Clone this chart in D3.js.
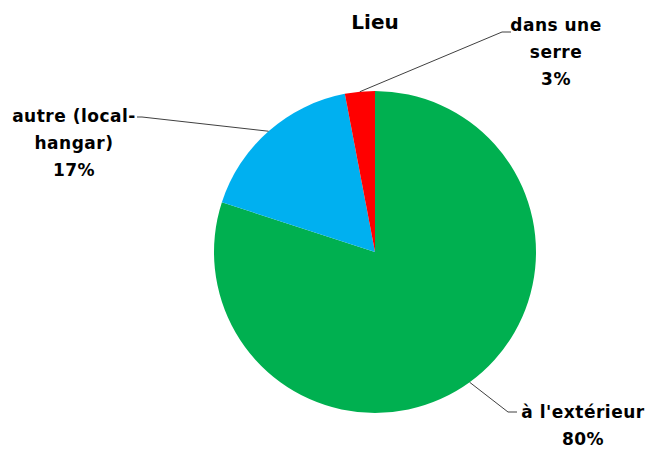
<!DOCTYPE html>
<html><head><meta charset="utf-8">
<script src="https://cdn.jsdelivr.net/npm/d3@7"></script>
<style>body{margin:0;background:#fff}svg{display:block}text{font-family:"Comic Sans MS","DejaVu Sans",sans-serif;font-weight:bold;fill:#000}</style>
</head><body>
<script>
const categories = ["à l'extérieur", "autre (local-hangar)", "dans une serre"];
const values = [80, 17, 3];
const labelLines = [["à l'extérieur", "80%"], ["autre (local-", "hangar)", "17%"], ["dans une", "serre", "3%"]];
const colors = ["#00B050", "#00B0F0", "#FF0000"];
const title = "Lieu";

const W = 649, H = 449, cx = 375, cy = 252, R = 161;
const svg = d3.select("body").append("svg").attr("width", W).attr("height", H);
svg.append("text").attr("x", cx).attr("y", 29).attr("text-anchor", "middle").style("font-size", "20px").text(title);

const data = categories.map((c, i) => ({cat: c, value: values[i], lines: labelLines[i], color: colors[i]}));
const pie = d3.pie().sort(null).value(d => d.value);
const arcs = pie(data);
const arc = d3.arc().innerRadius(0).outerRadius(R);
const g = svg.append("g").attr("transform", `translate(${cx},${cy})`);
g.selectAll("path").data(arcs).join("path").attr("d", arc).attr("fill", d => d.data.color);

const layout = [
  {elbow: [508, 412], end: [517, 412], tx: 583, ty: 418, anchor: "middle"},
  {elbow: [142, 117], end: [137, 117], tx: 74, ty: 122, anchor: "middle"},
  {elbow: [502, 32], end: [511, 32], tx: 556, ty: 31, anchor: "middle"}
];
const lh = 27;
arcs.forEach((a, i) => {
  const mid = (a.startAngle + a.endAngle) / 2;
  const p0 = [cx + R * Math.sin(mid), cy - R * Math.cos(mid)];
  const L = layout[i];
  svg.append("polyline").attr("points", [p0, L.elbow, L.end].map(p => p.join(",")).join(" "))
    .attr("fill", "none").attr("stroke", "#404040").attr("stroke-width", 1);
  const t = svg.append("text").attr("text-anchor", L.anchor).style("font-size", "17px").style("letter-spacing", "0.5px");
  a.data.lines.forEach((ln, j) => t.append("tspan").attr("x", L.tx).attr("y", L.ty + j * lh).text(ln));
});
</script>
</body></html>
